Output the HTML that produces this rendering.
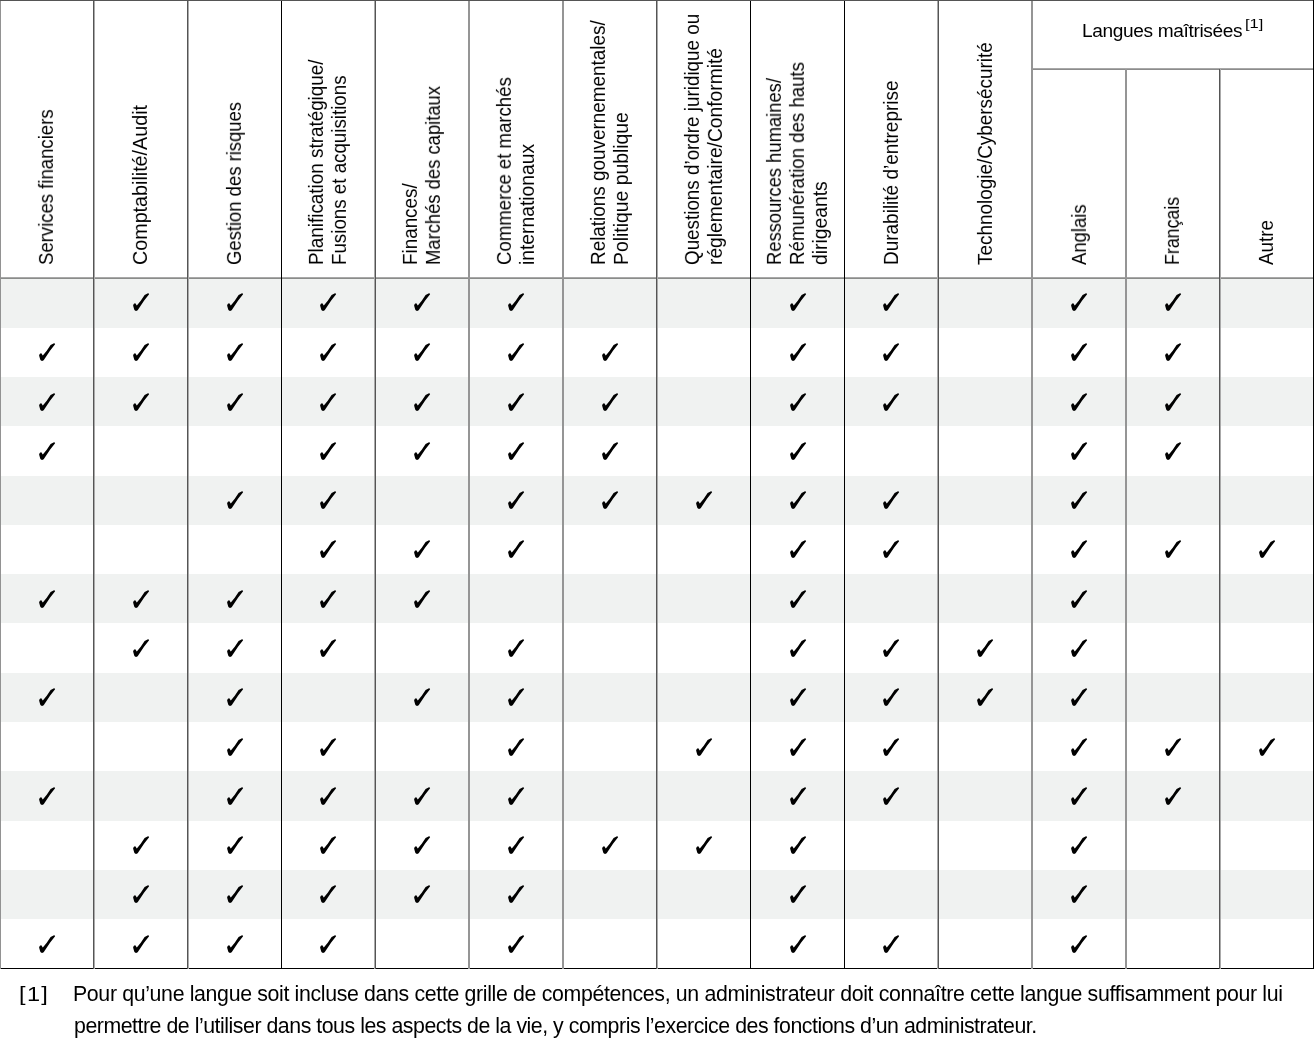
<!DOCTYPE html>
<html lang="fr"><head><meta charset="utf-8"><title>Grille de compétences</title>
<style>
html,body{margin:0;padding:0;background:#fff;}
body{width:1314px;height:1045px;overflow:hidden;position:relative;font-family:"Liberation Sans",sans-serif;color:#000;}
.s{position:absolute;left:1px;width:1312px;background:#f0f2f1;}
.v{position:absolute;width:1px;}
.h{position:absolute;height:1px;}
.hl{position:absolute;will-change:transform;font-size:18.70px;line-height:23px;height:23px;white-space:nowrap;}
.ck{position:absolute;width:20px;height:20px;overflow:visible;}
.tx{position:absolute;white-space:nowrap;will-change:transform;}
</style></head><body>
<svg width="0" height="0" style="position:absolute"><defs><path id="c" d="M8.1 -7.8L3 -1.3L-2 6.2Q-3.2 8.7 -4.9 8.9Q-6.3 8.8 -6.8 7.5L-7.9 3.6Q-7.6 1.4 -6.1 1.2Q-5.3 1.2 -4.9 2.5L-4.2 3.5L-0.25 -1.3L3.6 -6.9L7 -8.8Q7.8 -8.9 8.1 -7.8Z"/></defs></svg>

<div class="s" style="top:279px;height:49px"></div>
<div class="s" style="top:377px;height:49px"></div>
<div class="s" style="top:476px;height:49px"></div>
<div class="s" style="top:574px;height:49px"></div>
<div class="s" style="top:673px;height:49px"></div>
<div class="s" style="top:771px;height:50px"></div>
<div class="s" style="top:870px;height:49px"></div>
<div class="hl" style="left:53.41px;top:247.30px;transform-origin:0 18.00px;transform:rotate(-90deg) scale(0.9922,1.0600)">Services financiers</div>
<div class="hl" style="left:147.33px;top:247.30px;transform-origin:0 18.00px;transform:rotate(-90deg) scale(1.0550,1.0600)">Comptabilité/Audit</div>
<div class="hl" style="left:241.17px;top:247.30px;transform-origin:0 18.00px;transform:rotate(-90deg) scale(0.9870,1.0600)">Gestion des risques</div>
<div class="hl" style="left:323.34px;top:247.30px;transform-origin:0 18.00px;transform:rotate(-90deg) scale(1.0094,1.0600)">Planification stratégique/</div>
<div class="hl" style="left:346.34px;top:247.30px;transform-origin:0 18.00px;transform:rotate(-90deg) scale(1.0027,1.0600)">Fusions et acquisitions</div>
<div class="hl" style="left:417.09px;top:247.30px;transform-origin:0 18.00px;transform:rotate(-90deg) scale(1.0076,1.0600)">Finances/</div>
<div class="hl" style="left:440.09px;top:247.30px;transform-origin:0 18.00px;transform:rotate(-90deg) scale(0.9844,1.0600)">Marchés des capitaux</div>
<div class="hl" style="left:511.00px;top:247.30px;transform-origin:0 18.00px;transform:rotate(-90deg) scale(0.9935,1.0600)">Commerce et marchés</div>
<div class="hl" style="left:534.00px;top:247.30px;transform-origin:0 18.00px;transform:rotate(-90deg) scale(1.0313,1.0600)">internationaux</div>
<div class="hl" style="left:604.91px;top:247.30px;transform-origin:0 18.00px;transform:rotate(-90deg) scale(1.0108,1.0600)">Relations gouvernementales/</div>
<div class="hl" style="left:627.91px;top:247.30px;transform-origin:0 18.00px;transform:rotate(-90deg) scale(1.0359,1.0600)">Politique publique</div>
<div class="hl" style="left:698.66px;top:247.30px;transform-origin:0 18.00px;transform:rotate(-90deg) scale(1.0073,1.0600)">Questions d’ordre juridique ou</div>
<div class="hl" style="left:721.66px;top:247.30px;transform-origin:0 18.00px;transform:rotate(-90deg) scale(1.0293,1.0600)">réglementaire/Conformité</div>
<div class="hl" style="left:781.00px;top:247.30px;transform-origin:0 18.00px;transform:rotate(-90deg) scale(0.9835,1.0600)">Ressources humaines/</div>
<div class="hl" style="left:804.00px;top:247.30px;transform-origin:0 18.00px;transform:rotate(-90deg) scale(0.9970,1.0600)">Rémunération des hauts</div>
<div class="hl" style="left:827.00px;top:247.30px;transform-origin:0 18.00px;transform:rotate(-90deg) scale(1.0333,1.0600)">dirigeants</div>
<div class="hl" style="left:897.84px;top:247.30px;transform-origin:0 18.00px;transform:rotate(-90deg) scale(1.0151,1.0600)">Durabilité d’entreprise</div>
<div class="hl" style="left:991.59px;top:247.30px;transform-origin:0 18.00px;transform:rotate(-90deg) scale(1.0115,1.0600)">Technologie/Cybersécurité</div>
<div class="hl" style="left:1085.50px;top:247.30px;transform-origin:0 18.00px;transform:rotate(-90deg) scale(0.9883,1.0600)">Anglais</div>
<div class="hl" style="left:1179.41px;top:247.30px;transform-origin:0 18.00px;transform:rotate(-90deg) scale(0.9507,1.0600)">Français</div>
<div class="hl" style="left:1273.16px;top:247.30px;transform-origin:0 18.00px;transform:rotate(-90deg) scale(1.0047,1.0600)">Autre</div>
<div class="tx" style="left:1081.70px;top:20.00px;font-size:19.1px;line-height:22px;letter-spacing:-0.353px">Langues maîtrisées</div>
<div class="tx" style="left:1245.00px;top:13.00px;font-size:13.5px;line-height:22px;transform-origin:0 15px;transform:scale(1.2200,1.0000)">[1]</div>
<svg class="ck" style="left:130.83px;top:292.04px" viewBox="-10 -10 20 20"><use href="#c"/></svg>
<svg class="ck" style="left:224.67px;top:292.04px" viewBox="-10 -10 20 20"><use href="#c"/></svg>
<svg class="ck" style="left:318.34px;top:292.04px" viewBox="-10 -10 20 20"><use href="#c"/></svg>
<svg class="ck" style="left:412.09px;top:292.04px" viewBox="-10 -10 20 20"><use href="#c"/></svg>
<svg class="ck" style="left:506.00px;top:292.04px" viewBox="-10 -10 20 20"><use href="#c"/></svg>
<svg class="ck" style="left:787.50px;top:292.04px" viewBox="-10 -10 20 20"><use href="#c"/></svg>
<svg class="ck" style="left:881.34px;top:292.04px" viewBox="-10 -10 20 20"><use href="#c"/></svg>
<svg class="ck" style="left:1069.00px;top:292.04px" viewBox="-10 -10 20 20"><use href="#c"/></svg>
<svg class="ck" style="left:1162.91px;top:292.04px" viewBox="-10 -10 20 20"><use href="#c"/></svg>
<svg class="ck" style="left:36.91px;top:342.33px" viewBox="-10 -10 20 20"><use href="#c"/></svg>
<svg class="ck" style="left:130.83px;top:342.33px" viewBox="-10 -10 20 20"><use href="#c"/></svg>
<svg class="ck" style="left:224.67px;top:342.33px" viewBox="-10 -10 20 20"><use href="#c"/></svg>
<svg class="ck" style="left:318.34px;top:342.33px" viewBox="-10 -10 20 20"><use href="#c"/></svg>
<svg class="ck" style="left:412.09px;top:342.33px" viewBox="-10 -10 20 20"><use href="#c"/></svg>
<svg class="ck" style="left:506.00px;top:342.33px" viewBox="-10 -10 20 20"><use href="#c"/></svg>
<svg class="ck" style="left:599.91px;top:342.33px" viewBox="-10 -10 20 20"><use href="#c"/></svg>
<svg class="ck" style="left:787.50px;top:342.33px" viewBox="-10 -10 20 20"><use href="#c"/></svg>
<svg class="ck" style="left:881.34px;top:342.33px" viewBox="-10 -10 20 20"><use href="#c"/></svg>
<svg class="ck" style="left:1069.00px;top:342.33px" viewBox="-10 -10 20 20"><use href="#c"/></svg>
<svg class="ck" style="left:1162.91px;top:342.33px" viewBox="-10 -10 20 20"><use href="#c"/></svg>
<svg class="ck" style="left:36.91px;top:391.62px" viewBox="-10 -10 20 20"><use href="#c"/></svg>
<svg class="ck" style="left:130.83px;top:391.62px" viewBox="-10 -10 20 20"><use href="#c"/></svg>
<svg class="ck" style="left:224.67px;top:391.62px" viewBox="-10 -10 20 20"><use href="#c"/></svg>
<svg class="ck" style="left:318.34px;top:391.62px" viewBox="-10 -10 20 20"><use href="#c"/></svg>
<svg class="ck" style="left:412.09px;top:391.62px" viewBox="-10 -10 20 20"><use href="#c"/></svg>
<svg class="ck" style="left:506.00px;top:391.62px" viewBox="-10 -10 20 20"><use href="#c"/></svg>
<svg class="ck" style="left:599.91px;top:391.62px" viewBox="-10 -10 20 20"><use href="#c"/></svg>
<svg class="ck" style="left:787.50px;top:391.62px" viewBox="-10 -10 20 20"><use href="#c"/></svg>
<svg class="ck" style="left:881.34px;top:391.62px" viewBox="-10 -10 20 20"><use href="#c"/></svg>
<svg class="ck" style="left:1069.00px;top:391.62px" viewBox="-10 -10 20 20"><use href="#c"/></svg>
<svg class="ck" style="left:1162.91px;top:391.62px" viewBox="-10 -10 20 20"><use href="#c"/></svg>
<svg class="ck" style="left:36.91px;top:440.90px" viewBox="-10 -10 20 20"><use href="#c"/></svg>
<svg class="ck" style="left:318.34px;top:440.90px" viewBox="-10 -10 20 20"><use href="#c"/></svg>
<svg class="ck" style="left:412.09px;top:440.90px" viewBox="-10 -10 20 20"><use href="#c"/></svg>
<svg class="ck" style="left:506.00px;top:440.90px" viewBox="-10 -10 20 20"><use href="#c"/></svg>
<svg class="ck" style="left:599.91px;top:440.90px" viewBox="-10 -10 20 20"><use href="#c"/></svg>
<svg class="ck" style="left:787.50px;top:440.90px" viewBox="-10 -10 20 20"><use href="#c"/></svg>
<svg class="ck" style="left:1069.00px;top:440.90px" viewBox="-10 -10 20 20"><use href="#c"/></svg>
<svg class="ck" style="left:1162.91px;top:440.90px" viewBox="-10 -10 20 20"><use href="#c"/></svg>
<svg class="ck" style="left:224.67px;top:490.19px" viewBox="-10 -10 20 20"><use href="#c"/></svg>
<svg class="ck" style="left:318.34px;top:490.19px" viewBox="-10 -10 20 20"><use href="#c"/></svg>
<svg class="ck" style="left:506.00px;top:490.19px" viewBox="-10 -10 20 20"><use href="#c"/></svg>
<svg class="ck" style="left:599.91px;top:490.19px" viewBox="-10 -10 20 20"><use href="#c"/></svg>
<svg class="ck" style="left:693.66px;top:490.19px" viewBox="-10 -10 20 20"><use href="#c"/></svg>
<svg class="ck" style="left:787.50px;top:490.19px" viewBox="-10 -10 20 20"><use href="#c"/></svg>
<svg class="ck" style="left:881.34px;top:490.19px" viewBox="-10 -10 20 20"><use href="#c"/></svg>
<svg class="ck" style="left:1069.00px;top:490.19px" viewBox="-10 -10 20 20"><use href="#c"/></svg>
<svg class="ck" style="left:318.34px;top:539.47px" viewBox="-10 -10 20 20"><use href="#c"/></svg>
<svg class="ck" style="left:412.09px;top:539.47px" viewBox="-10 -10 20 20"><use href="#c"/></svg>
<svg class="ck" style="left:506.00px;top:539.47px" viewBox="-10 -10 20 20"><use href="#c"/></svg>
<svg class="ck" style="left:787.50px;top:539.47px" viewBox="-10 -10 20 20"><use href="#c"/></svg>
<svg class="ck" style="left:881.34px;top:539.47px" viewBox="-10 -10 20 20"><use href="#c"/></svg>
<svg class="ck" style="left:1069.00px;top:539.47px" viewBox="-10 -10 20 20"><use href="#c"/></svg>
<svg class="ck" style="left:1162.91px;top:539.47px" viewBox="-10 -10 20 20"><use href="#c"/></svg>
<svg class="ck" style="left:1256.66px;top:539.47px" viewBox="-10 -10 20 20"><use href="#c"/></svg>
<svg class="ck" style="left:36.91px;top:588.76px" viewBox="-10 -10 20 20"><use href="#c"/></svg>
<svg class="ck" style="left:130.83px;top:588.76px" viewBox="-10 -10 20 20"><use href="#c"/></svg>
<svg class="ck" style="left:224.67px;top:588.76px" viewBox="-10 -10 20 20"><use href="#c"/></svg>
<svg class="ck" style="left:318.34px;top:588.76px" viewBox="-10 -10 20 20"><use href="#c"/></svg>
<svg class="ck" style="left:412.09px;top:588.76px" viewBox="-10 -10 20 20"><use href="#c"/></svg>
<svg class="ck" style="left:787.50px;top:588.76px" viewBox="-10 -10 20 20"><use href="#c"/></svg>
<svg class="ck" style="left:1069.00px;top:588.76px" viewBox="-10 -10 20 20"><use href="#c"/></svg>
<svg class="ck" style="left:130.83px;top:638.04px" viewBox="-10 -10 20 20"><use href="#c"/></svg>
<svg class="ck" style="left:224.67px;top:638.04px" viewBox="-10 -10 20 20"><use href="#c"/></svg>
<svg class="ck" style="left:318.34px;top:638.04px" viewBox="-10 -10 20 20"><use href="#c"/></svg>
<svg class="ck" style="left:506.00px;top:638.04px" viewBox="-10 -10 20 20"><use href="#c"/></svg>
<svg class="ck" style="left:787.50px;top:638.04px" viewBox="-10 -10 20 20"><use href="#c"/></svg>
<svg class="ck" style="left:881.34px;top:638.04px" viewBox="-10 -10 20 20"><use href="#c"/></svg>
<svg class="ck" style="left:975.09px;top:638.04px" viewBox="-10 -10 20 20"><use href="#c"/></svg>
<svg class="ck" style="left:1069.00px;top:638.04px" viewBox="-10 -10 20 20"><use href="#c"/></svg>
<svg class="ck" style="left:36.91px;top:687.33px" viewBox="-10 -10 20 20"><use href="#c"/></svg>
<svg class="ck" style="left:224.67px;top:687.33px" viewBox="-10 -10 20 20"><use href="#c"/></svg>
<svg class="ck" style="left:412.09px;top:687.33px" viewBox="-10 -10 20 20"><use href="#c"/></svg>
<svg class="ck" style="left:506.00px;top:687.33px" viewBox="-10 -10 20 20"><use href="#c"/></svg>
<svg class="ck" style="left:787.50px;top:687.33px" viewBox="-10 -10 20 20"><use href="#c"/></svg>
<svg class="ck" style="left:881.34px;top:687.33px" viewBox="-10 -10 20 20"><use href="#c"/></svg>
<svg class="ck" style="left:975.09px;top:687.33px" viewBox="-10 -10 20 20"><use href="#c"/></svg>
<svg class="ck" style="left:1069.00px;top:687.33px" viewBox="-10 -10 20 20"><use href="#c"/></svg>
<svg class="ck" style="left:224.67px;top:736.62px" viewBox="-10 -10 20 20"><use href="#c"/></svg>
<svg class="ck" style="left:318.34px;top:736.62px" viewBox="-10 -10 20 20"><use href="#c"/></svg>
<svg class="ck" style="left:506.00px;top:736.62px" viewBox="-10 -10 20 20"><use href="#c"/></svg>
<svg class="ck" style="left:693.66px;top:736.62px" viewBox="-10 -10 20 20"><use href="#c"/></svg>
<svg class="ck" style="left:787.50px;top:736.62px" viewBox="-10 -10 20 20"><use href="#c"/></svg>
<svg class="ck" style="left:881.34px;top:736.62px" viewBox="-10 -10 20 20"><use href="#c"/></svg>
<svg class="ck" style="left:1069.00px;top:736.62px" viewBox="-10 -10 20 20"><use href="#c"/></svg>
<svg class="ck" style="left:1162.91px;top:736.62px" viewBox="-10 -10 20 20"><use href="#c"/></svg>
<svg class="ck" style="left:1256.66px;top:736.62px" viewBox="-10 -10 20 20"><use href="#c"/></svg>
<svg class="ck" style="left:36.91px;top:785.90px" viewBox="-10 -10 20 20"><use href="#c"/></svg>
<svg class="ck" style="left:224.67px;top:785.90px" viewBox="-10 -10 20 20"><use href="#c"/></svg>
<svg class="ck" style="left:318.34px;top:785.90px" viewBox="-10 -10 20 20"><use href="#c"/></svg>
<svg class="ck" style="left:412.09px;top:785.90px" viewBox="-10 -10 20 20"><use href="#c"/></svg>
<svg class="ck" style="left:506.00px;top:785.90px" viewBox="-10 -10 20 20"><use href="#c"/></svg>
<svg class="ck" style="left:787.50px;top:785.90px" viewBox="-10 -10 20 20"><use href="#c"/></svg>
<svg class="ck" style="left:881.34px;top:785.90px" viewBox="-10 -10 20 20"><use href="#c"/></svg>
<svg class="ck" style="left:1069.00px;top:785.90px" viewBox="-10 -10 20 20"><use href="#c"/></svg>
<svg class="ck" style="left:1162.91px;top:785.90px" viewBox="-10 -10 20 20"><use href="#c"/></svg>
<svg class="ck" style="left:130.83px;top:835.19px" viewBox="-10 -10 20 20"><use href="#c"/></svg>
<svg class="ck" style="left:224.67px;top:835.19px" viewBox="-10 -10 20 20"><use href="#c"/></svg>
<svg class="ck" style="left:318.34px;top:835.19px" viewBox="-10 -10 20 20"><use href="#c"/></svg>
<svg class="ck" style="left:412.09px;top:835.19px" viewBox="-10 -10 20 20"><use href="#c"/></svg>
<svg class="ck" style="left:506.00px;top:835.19px" viewBox="-10 -10 20 20"><use href="#c"/></svg>
<svg class="ck" style="left:599.91px;top:835.19px" viewBox="-10 -10 20 20"><use href="#c"/></svg>
<svg class="ck" style="left:693.66px;top:835.19px" viewBox="-10 -10 20 20"><use href="#c"/></svg>
<svg class="ck" style="left:787.50px;top:835.19px" viewBox="-10 -10 20 20"><use href="#c"/></svg>
<svg class="ck" style="left:1069.00px;top:835.19px" viewBox="-10 -10 20 20"><use href="#c"/></svg>
<svg class="ck" style="left:130.83px;top:884.48px" viewBox="-10 -10 20 20"><use href="#c"/></svg>
<svg class="ck" style="left:224.67px;top:884.48px" viewBox="-10 -10 20 20"><use href="#c"/></svg>
<svg class="ck" style="left:318.34px;top:884.48px" viewBox="-10 -10 20 20"><use href="#c"/></svg>
<svg class="ck" style="left:412.09px;top:884.48px" viewBox="-10 -10 20 20"><use href="#c"/></svg>
<svg class="ck" style="left:506.00px;top:884.48px" viewBox="-10 -10 20 20"><use href="#c"/></svg>
<svg class="ck" style="left:787.50px;top:884.48px" viewBox="-10 -10 20 20"><use href="#c"/></svg>
<svg class="ck" style="left:1069.00px;top:884.48px" viewBox="-10 -10 20 20"><use href="#c"/></svg>
<svg class="ck" style="left:36.91px;top:933.76px" viewBox="-10 -10 20 20"><use href="#c"/></svg>
<svg class="ck" style="left:130.83px;top:933.76px" viewBox="-10 -10 20 20"><use href="#c"/></svg>
<svg class="ck" style="left:224.67px;top:933.76px" viewBox="-10 -10 20 20"><use href="#c"/></svg>
<svg class="ck" style="left:318.34px;top:933.76px" viewBox="-10 -10 20 20"><use href="#c"/></svg>
<svg class="ck" style="left:506.00px;top:933.76px" viewBox="-10 -10 20 20"><use href="#c"/></svg>
<svg class="ck" style="left:787.50px;top:933.76px" viewBox="-10 -10 20 20"><use href="#c"/></svg>
<svg class="ck" style="left:881.34px;top:933.76px" viewBox="-10 -10 20 20"><use href="#c"/></svg>
<svg class="ck" style="left:1069.00px;top:933.76px" viewBox="-10 -10 20 20"><use href="#c"/></svg>
<div class="h" style="left:1032px;top:68px;width:282px;background:#a8a8a8"></div>
<div class="h" style="left:1032px;top:69px;width:282px;background:#8c8c8c"></div>
<div class="h" style="left:0;top:277px;width:1314px;background:#a8a8a8"></div>
<div class="h" style="left:0;top:278px;width:1314px;background:#8a8c8a"></div>
<div class="h" style="left:0;top:968px;width:1314px;background:#000"></div>
<div class="v" style="left:0px;top:0px;height:969px;background:#929292"></div>
<div class="v" style="left:93px;top:0px;height:969px;background:#555"></div>
<div class="v" style="left:94px;top:0px;height:969px;background:#aaa"></div>
<div class="v" style="left:187px;top:0px;height:969px;background:#555"></div>
<div class="v" style="left:188px;top:0px;height:969px;background:#aaa"></div>
<div class="v" style="left:281px;top:0px;height:969px;background:#000"></div>
<div class="v" style="left:374px;top:0px;height:969px;background:#aaa"></div>
<div class="v" style="left:375px;top:0px;height:969px;background:#555"></div>
<div class="v" style="left:468px;top:0px;height:969px;background:#959595"></div>
<div class="v" style="left:469px;top:0px;height:969px;background:#959595"></div>
<div class="v" style="left:562px;top:0px;height:969px;background:#959595"></div>
<div class="v" style="left:563px;top:0px;height:969px;background:#959595"></div>
<div class="v" style="left:656px;top:0px;height:969px;background:#555"></div>
<div class="v" style="left:657px;top:0px;height:969px;background:#aaa"></div>
<div class="v" style="left:750px;top:0px;height:969px;background:#000"></div>
<div class="v" style="left:844px;top:0px;height:969px;background:#000"></div>
<div class="v" style="left:937px;top:0px;height:969px;background:#aaa"></div>
<div class="v" style="left:938px;top:0px;height:969px;background:#555"></div>
<div class="v" style="left:1031px;top:0px;height:969px;background:#959595"></div>
<div class="v" style="left:1032px;top:0px;height:969px;background:#959595"></div>
<div class="v" style="left:1125px;top:69px;height:900px;background:#959595"></div>
<div class="v" style="left:1126px;top:69px;height:900px;background:#959595"></div>
<div class="v" style="left:1219px;top:69px;height:900px;background:#555"></div>
<div class="v" style="left:1220px;top:69px;height:900px;background:#aaa"></div>
<div class="v" style="left:1313px;top:0px;height:969px;background:#000"></div>
<div class="h" style="left:0;top:0;width:1313px;background:#555"></div>
<div class="tx" style="left:18.70px;top:978.00px;font-size:21px;line-height:32px;letter-spacing:1.2px;transform-origin:0 23px;transform:scale(1.1200,1.0000)">[1]</div>
<div class="tx" style="left:72.70px;top:978.00px;font-size:21.3px;line-height:32px;letter-spacing:-0.338px">Pour qu’une langue soit incluse dans cette grille de compétences, un administrateur doit connaître cette langue suffisamment pour lui</div>
<div class="tx" style="left:73.70px;top:1010.00px;font-size:21.3px;line-height:32px;letter-spacing:-0.462px">permettre de l’utiliser dans tous les aspects de la vie, y compris l’exercice des fonctions d’un administrateur.</div>
</body></html>
